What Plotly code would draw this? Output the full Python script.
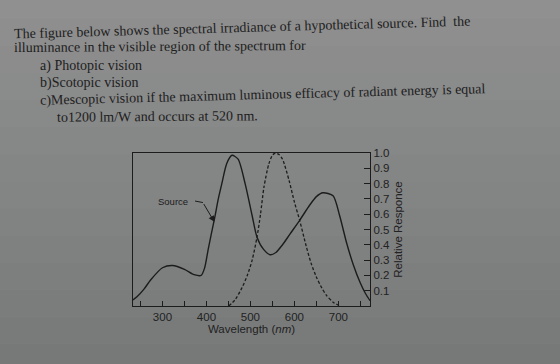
import plotly.graph_objects as go

# Data
src_wl = [233, 242, 258, 273, 300, 323, 350, 372, 388, 396, 404, 411, 419, 427, 435, 446, 458, 472, 488, 504, 515, 530, 545, 558, 573, 590, 612, 635, 650, 665, 688, 703, 719, 734, 750, 762, 772]
src_val = [0.04, 0.06, 0.11, 0.17, 0.25, 0.265, 0.24, 0.205, 0.20, 0.25, 0.37, 0.47, 0.58, 0.70, 0.80, 0.93, 0.985, 0.96, 0.80, 0.59, 0.45, 0.37, 0.335, 0.35, 0.40, 0.47, 0.56, 0.66, 0.715, 0.74, 0.72, 0.59, 0.41, 0.27, 0.15, 0.08, 0.035]
eye_wl = [451, 465, 481, 493, 504, 515, 523, 531, 542, 550, 557, 565, 573, 588, 600, 612, 627, 638, 650, 662, 673, 688, 704]
eye_val = [0.0, 0.04, 0.12, 0.20, 0.30, 0.45, 0.60, 0.78, 0.93, 0.985, 1.0, 0.99, 0.96, 0.82, 0.68, 0.56, 0.39, 0.28, 0.19, 0.12, 0.07, 0.025, 0.0]

x_tickvals = [300, 400, 500, 600, 700]
y_tickvals = [0.1, 0.2, 0.3, 0.4, 0.5, 0.6, 0.7, 0.8, 0.9, 1.0]
y_ticktext = ["0.1", "0.2", "0.3", "0.4", "0.5", "0.6", "0.7", "0.8", "0.9", "1.0"]

question_lines = [
    "The figure below shows the spectral irradiance of a hypothetical source. Find  the",
    "illuminance in the visible region of the spectrum for",
    "a) Photopic vision",
    "b)Scotopic vision",
    "c)Mescopic vision if the maximum luminous efficacy of radiant energy is equal",
    "to1200 lm/W and occurs at 520 nm.",
]

INK = "#1c1c1c"
BG = "#8a8b8b"

fig = go.Figure()
fig.add_trace(go.Scatter(x=src_wl, y=src_val, mode="lines", line=dict(color=INK, width=1.4, shape="spline", smoothing=0.7), showlegend=False, hoverinfo="skip"))
fig.add_trace(go.Scatter(x=eye_wl, y=eye_val, mode="lines", line=dict(color=INK, width=1.3, dash="3px,2px", shape="spline", smoothing=0.7), showlegend=False, hoverinfo="skip"))

# background gradient bands (photo lighting)
n = 14
top = (0x90, 0x90, 0x90)
bot = (0x77, 0x79, 0x79)
ytop, ybot = 2.05, -0.42
h = (ytop - ybot) / n
for i in range(n):
    t = i / (n - 1)
    c = tuple(int(round(top[k] + (bot[k] - top[k]) * t)) for k in range(3))
    fig.add_shape(type="rect", xref="paper", yref="paper", x0=-1, x1=2,
                  y0=ytop - (i + 1) * h - (0.5 if i == n - 1 else 0), y1=ytop - i * h + (0.5 if i == 0 else 0),
                  fillcolor="rgb(%d,%d,%d)" % c, line_width=0, layer="below")

# question text
text_pos = [(12, 27, -1.6), (12, 46, -0.4), (38, 66, 0), (38, 83, 0), (38, 95, -1.5), (55, 116, -0.4)]
for line, (px, py, ang) in zip(question_lines, text_pos):
    fig.add_annotation(text=line, xref="paper", yref="paper",
                       x=(px - 133) / 237, y=(306 - py) / 153,
                       xanchor="left", yanchor="middle", showarrow=False, textangle=ang,
                       font=dict(family="Liberation Serif", size=14, color="#202020"))

# Source label with bent leader
fig.add_annotation(text="Source", x=324, y=0.686, showarrow=False,
                   font=dict(family="Liberation Sans", size=9.5, color=INK))
fig.add_shape(type="line", x0=374, x1=392, y0=0.686, y1=0.676, line=dict(color=INK, width=1))
fig.add_annotation(text="", x=418, y=0.55, ax=392, ay=0.676, axref="x", ayref="y",
                   showarrow=True, arrowhead=2, arrowsize=1.2, arrowwidth=1, arrowcolor=INK)

fig.update_layout(
    width=560, height=364,
    margin=dict(l=133, r=190, t=153, b=58),
    paper_bgcolor=BG, plot_bgcolor="rgba(0,0,0,0)",
    font=dict(family="Liberation Sans", color="#222222", size=11),
    xaxis=dict(range=[233, 772], tickvals=x_tickvals, ticks="inside", ticklen=5, tickcolor=INK,
               minor=dict(dtick=50, ticks="inside", ticklen=5, tickcolor=INK),
               showline=True, linecolor=INK, linewidth=1.2, mirror=True, showgrid=False, zeroline=False,
               tickfont=dict(size=11.5),
               title=dict(text="Wavelength (<i>nm</i>)", font=dict(size=11.5), standoff=2)),
    yaxis=dict(range=[0, 1.0], side="right", tickvals=y_tickvals, ticktext=y_ticktext,
               ticks="inside", ticklen=6, tickcolor=INK,
               showline=True, linecolor=INK, linewidth=1.2, mirror=True, showgrid=False, zeroline=False,
               tickfont=dict(size=11.5),
               title=dict(text="Relative Responce", font=dict(size=11.5), standoff=4)),
)

fig.write_html("out.html")
